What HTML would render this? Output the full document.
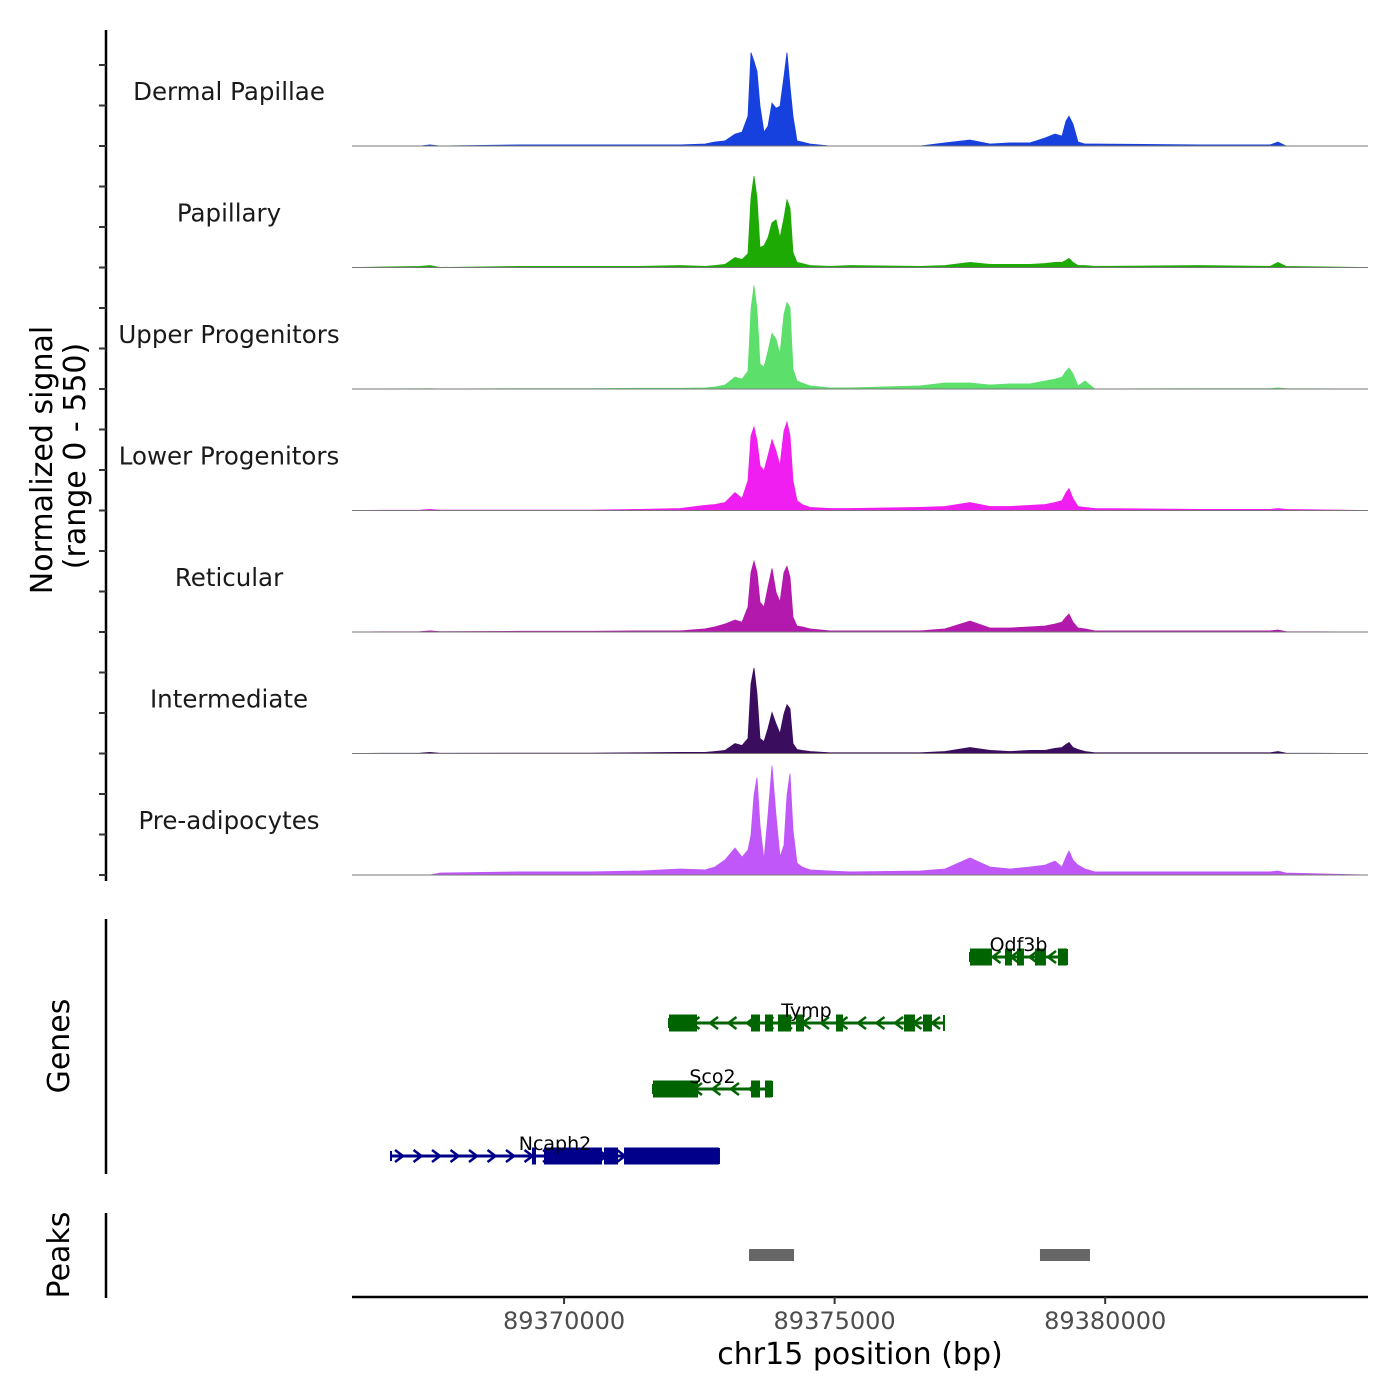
<!DOCTYPE html>
<html><head><meta charset="utf-8"><style>
html,body{margin:0;padding:0;background:#fff;}
svg{display:block;font-family:"DejaVu Sans","Liberation Sans",sans-serif;}
</style></head><body>
<svg id="chart" width="1400" height="1400" viewBox="0 0 1400 1400" xmlns="http://www.w3.org/2000/svg">
<rect width="1400" height="1400" fill="#fff"/>
<g id="tracks"></g>
<g id="genes"></g>
<g id="peaks"></g>
<g id="axes"></g>
</svg>
<script>
const trackNames = ["Dermal Papillae","Papillary","Upper Progenitors","Lower Progenitors","Reticular","Intermediate","Pre-adipocytes"];
const trackColors = ["#1741df","#1eaa05","#5ddf6c","#f01ef0","#b319ad","#3a0d5e","#c057f8"];
const positions = [89366081,89367338,89367522,89367707,89369186,89370479,89371403,89372142,89372604,89372789,89372974,89373159,89373288,89373399,89373455,89373510,89373565,89373621,89373695,89373769,89373843,89373917,89373990,89374064,89374120,89374175,89374231,89374305,89374397,89374545,89374914,89375284,89376578,89377040,89377502,89377871,89378241,89378610,89378888,89379072,89379202,89379276,89379331,89379405,89379497,89379627,89379812,89381752,89383046,89383193,89383341,89384857];
const valsDermal = [0,0,5,0,5,5,5,5,9,18,23,54,63,135,423,383,338,180,63,90,194,171,180,315,423,270,135,23,18,9,0,0,0,14,27,9,14,14,36,54,45,113,135,99,18,9,9,5,5,18,0,0];
const valsPapillary = [0,5,9,0,5,5,5,9,5,9,14,45,36,63,315,414,315,90,99,135,203,216,135,225,306,270,68,23,18,9,5,9,5,9,23,14,14,14,18,23,23,32,41,23,9,9,5,9,5,23,5,0];
const valsUpper = [0,1,2,0,2,2,3,3,5,9,18,54,45,81,360,468,360,113,99,171,252,225,158,338,392,369,90,36,27,14,5,5,14,27,27,18,23,23,36,45,54,81,95,68,14,36,0,2,2,5,2,0];
const valsLower = [0,2,5,2,2,2,5,9,23,27,36,81,54,135,338,378,315,203,180,248,320,270,203,360,400,338,135,45,27,14,9,9,14,18,36,18,18,23,27,36,45,81,99,54,18,14,9,5,5,9,5,0];
const valsReticular = [0,2,5,2,3,3,5,5,14,23,36,54,45,113,270,320,270,135,113,203,288,180,135,270,297,248,68,27,23,14,5,5,5,14,50,18,18,23,27,36,45,68,81,45,18,14,5,5,5,9,2,0];
const valsIntermediate = [0,2,5,1,2,2,3,5,5,9,14,45,36,68,315,387,270,68,54,113,185,135,90,180,221,203,45,18,14,9,3,3,3,9,27,14,9,14,14,23,27,41,50,27,18,9,3,3,3,9,2,0];
const valsPreadipo = [0,0,0,9,14,14,18,27,23,36,68,122,81,113,180,360,441,225,68,270,495,270,81,135,360,459,203,54,36,23,18,14,18,27,77,36,27,36,45,63,36,81,108,68,45,27,14,14,14,18,9,0];
const xTicks = [89370000,89375000,89380000];
const geneNames = ["Odf3b","Tymp","Sco2","Ncaph2"];
const geneStarts = [89377502,89371939,89371643,89366802];
const geneEnds = [89379294,89377021,89373843,89372863];
const geneStrand = [-1,-1,-1,1];
const geneColors = ["#006400","#006400","#006400","#00008b"];
const exonsOdf3b = [[89377502,89377908],[89378148,89378277],[89378370,89378499],[89378702,89378905],[89379127,89379294]];
const exonsTymp = [[89371939,89372457],[89373455,89373621],[89373713,89373861],[89373953,89374194],[89374286,89374434],[89375025,89375155],[89376282,89376485],[89376633,89376799]];
const exonsSco2 = [[89371643,89372476],[89373455,89373621],[89373713,89373843]];
const exonsNcaph2 = [[89369407,89369481],[89369629,89370701],[89370738,89370997],[89371108,89372863]];
const peakStarts = [89373418,89378795];
const peakEnds = [89374250,89379719];

const NS="http://www.w3.org/2000/svg";
const X0=352,X1=1368,D0=89366081,D1=89384857;
const xs = v => X0 + (v-D0)/(D1-D0)*(X1-X0);
const TH=121.5, B0=146, YMAX=550;
const ys = (v,i) => (B0+i*TH) - v/YMAX*TH;
function mk(tag,attrs,parent){const e=document.createElementNS(NS,tag);for(const k in attrs)e.setAttribute(k,attrs[k]);parent.appendChild(e);return e;}
const allVals=[valsDermal,valsPapillary,valsUpper,valsLower,valsReticular,valsIntermediate,valsPreadipo];
const gT=document.getElementById('tracks');
allVals.forEach((vals,i)=>{
  const base=B0+i*TH;
  let d=`M${xs(positions[0])},${base}`;
  positions.forEach((p,j)=>{d+=` L${xs(p).toFixed(1)},${ys(vals[j],i).toFixed(1)}`;});
  d+=` L${xs(positions[positions.length-1])},${base} Z`;
  const a=mk('path',{d:d,fill:trackColors[i],stroke:trackColors[i],'stroke-width':0.8},gT);
  
  
  const l=mk('line',{x1:X0,x2:X1,y1:base,y2:base,stroke:'#777','stroke-width':1},gT);
  
  
  const t=mk('text',{x:229,y:base-46,'text-anchor':'middle','font-size':24.5,fill:'#1a1a1a'},gT);
  t.textContent=trackNames[i];
  
  
});
// genes
const gG=document.getElementById('genes');
const allExons=[exonsOdf3b,exonsTymp,exonsSco2,exonsNcaph2];
const rowY=[957,1023,1089,1156];
geneNames.forEach((n,i)=>{
  const y=rowY[i],c=geneColors[i];
  const g=mk('g',{},gG);
  
  
  const x1=xs(geneStarts[i]),x2=xs(geneEnds[i]);
  mk('line',{x1:x1,x2:x2,y1:y,y2:y,stroke:c,'stroke-width':3},g);
  mk('line',{x1:x2,x2:x2,y1:y-8,y2:y+8,stroke:c,'stroke-width':2},g);
  mk('line',{x1:x1,x2:x1,y1:y-5,y2:y+5,stroke:c,'stroke-width':2},g);
  for(let x=x1+8;x<x2-4;x+=18.5){
    const s=geneStrand[i];
    mk('polyline',{points:`${x-4*s},${y-6} ${x+4*s},${y} ${x-4*s},${y+6}`,fill:'none',stroke:c,'stroke-width':2.5},g);
  }
  allExons[i].forEach(e=>{mk('rect',{x:xs(e[0]),y:y-8.5,width:xs(e[1])-xs(e[0]),height:17,fill:c},g);});
  const t=mk('text',{x:(x1+x2)/2,y:y-6,'text-anchor':'middle','font-size':19,fill:'#000'},g);
  t.textContent=n;
});
// peaks
const gP=document.getElementById('peaks');
peakStarts.forEach((s,i)=>{
  const r=mk('rect',{x:xs(s),y:1249,width:xs(peakEnds[i])-xs(s),height:12,fill:'#666'},gP);
  
  
});
// axes
const gA=document.getElementById('axes');
mk('line',{x1:106,x2:106,y1:30,y2:881,stroke:'#000','stroke-width':2.5},gA);
for(let i=0;i<7;i++){for(let k=0;k<3;k++){const y=B0+i*TH-k*40.5;mk('line',{x1:99,x2:106,y1:y,y2:y,stroke:'#333','stroke-width':2},gA);}}
mk('line',{x1:106,x2:106,y1:919,y2:1174,stroke:'#000','stroke-width':2.5},gA);
mk('line',{x1:106,x2:106,y1:1213,y2:1298,stroke:'#000','stroke-width':2.5},gA);
mk('line',{x1:X0,x2:X1,y1:1297,y2:1297,stroke:'#000','stroke-width':2.5},gA);
xTicks.forEach(v=>{
  mk('line',{x1:xs(v),x2:xs(v),y1:1297,y2:1304,stroke:'#333','stroke-width':2},gA);
  const t=mk('text',{x:xs(v),y:1329,'text-anchor':'middle','font-size':24,fill:'#4d4d4d'},gA);
  t.textContent=String(v);
  
  
});
const xt=mk('text',{x:860,y:1364,'text-anchor':'middle','font-size':30,fill:'#000'},gA);
xt.textContent='chr15 position (bp)';


const yt=mk('text',{transform:'translate(52,460) rotate(-90)','text-anchor':'middle','font-size':30,fill:'#000'},gA);
yt.textContent='Normalized signal';


const yt2=mk('text',{transform:'translate(85,456) rotate(-90)','text-anchor':'middle','font-size':30,fill:'#000'},gA);
yt2.textContent='(range 0 - 550)';


const gt=mk('text',{transform:'translate(69,1046) rotate(-90)','text-anchor':'middle','font-size':30,fill:'#000'},gA);
gt.textContent='Genes';


const pt=mk('text',{transform:'translate(69,1255) rotate(-90)','text-anchor':'middle','font-size':30,fill:'#000'},gA);
pt.textContent='Peaks';


</script>
</body></html>
